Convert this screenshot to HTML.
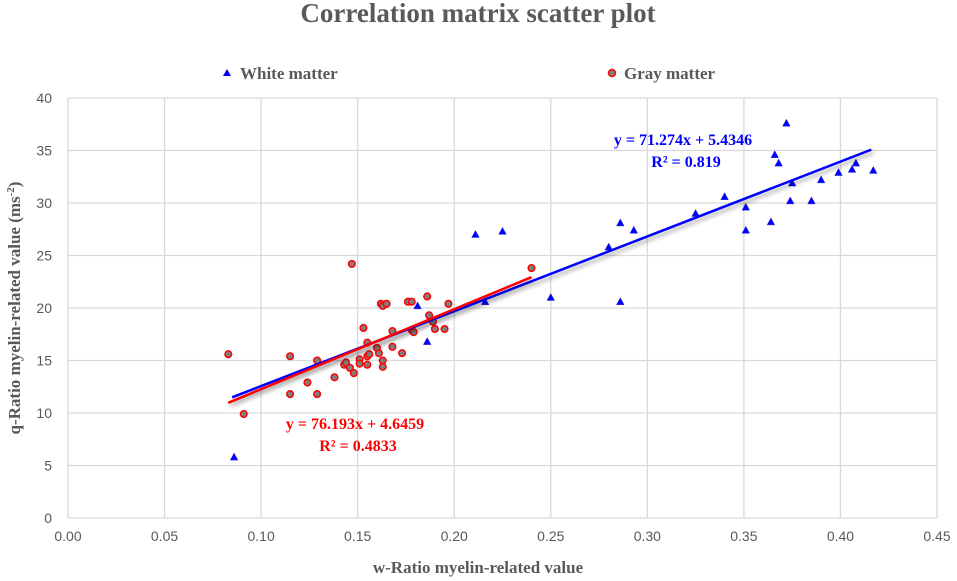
<!DOCTYPE html>
<html><head><meta charset="utf-8"><style>
body{margin:0;background:#fff;}
svg{display:block;font-family:"Liberation Serif",serif;}
</style></head><body>
<svg id="chart" width="957" height="581">
<defs><filter id="sh" x="-10%" y="-50%" width="120%" height="200%"><feDropShadow dx="2" dy="3" stdDeviation="2" flood-color="#000" flood-opacity="0.35"/></filter></defs>
<text x="478" y="22" text-anchor="middle" font-size="27" font-weight="bold" fill="#595959">Correlation matrix scatter plot</text>
<g>
<g><polygon points="227,69 231,76 223,76" fill="#0000ff"/><text x="240" y="79" font-size="17" font-weight="bold" fill="#595959">White matter</text></g>
<g><circle cx="612" cy="73" r="3.5" fill="#7f7f7f" stroke="#ff0000" stroke-width="1.5"/><text x="624" y="79" font-size="17" font-weight="bold" fill="#595959">Gray matter</text></g>
</g>
<g id="grid"></g><g id="axes"></g><g id="marks"></g>
<text x="478" y="573" text-anchor="middle" font-size="17" font-weight="bold" fill="#595959">w-Ratio  myelin-related  value</text>
<text transform="translate(20,308) rotate(-90)" text-anchor="middle" font-size="17" font-weight="bold" fill="#595959">q-Ratio  myelin-related  value (ms<tspan font-size="11" dy="-6">-2</tspan><tspan dy="6">)</tspan></text>
<g font-size="16" font-weight="bold" fill="#0000ff" text-anchor="middle"><text x="683" y="145">y = 71.274x + 5.4346</text><text x="686" y="167">R² = 0.819</text></g>
<g font-size="16" font-weight="bold" fill="#ff0000" text-anchor="middle"><text x="355" y="429">y = 76.193x + 4.6459</text><text x="358" y="451">R² = 0.4833</text></g>
</svg>
<script>
const xTicks=[0,0.05,0.10,0.15,0.20,0.25,0.30,0.35,0.40,0.45];
const yTicks=[0,5,10,15,20,25,30,35,40];
const whiteX=[0.086,0.181,0.186,0.216,0.250,0.211,0.225,0.286,0.280,0.286,0.293,0.325,0.340,0.351,0.351,0.364,0.366,0.368,0.372,0.374,0.375,0.385,0.390,0.399,0.406,0.408,0.417];
const whiteY=[5.8,20.2,16.8,20.6,21.0,27.0,27.3,20.6,25.8,28.1,27.4,29.0,30.6,27.4,29.6,28.2,34.6,33.8,37.6,30.2,31.9,30.2,32.2,32.9,33.2,33.8,33.1];
const grayX=[0.083,0.091,0.115,0.115,0.124,0.129,0.129,0.138,0.143,0.144,0.146,0.148,0.147,0.151,0.151,0.153,0.155,0.155,0.155,0.156,0.160,0.161,0.163,0.163,0.162,0.163,0.165,0.168,0.168,0.173,0.176,0.178,0.178,0.179,0.186,0.187,0.189,0.190,0.195,0.197,0.240];
const grayY=[15.6,9.9,15.4,11.8,12.9,15.0,11.8,13.4,14.6,14.8,14.3,13.8,24.2,15.1,14.7,18.1,16.7,15.4,14.6,15.6,16.2,15.7,15.0,14.4,20.4,20.2,20.4,17.8,16.3,15.7,20.6,20.6,17.9,17.7,21.1,19.3,18.7,18.0,18.0,20.4,23.8];
const whiteFit=[71.274,5.4346,0.085,0.416];
const grayFit=[76.193,4.6459,0.083,0.240];
const NS='http://www.w3.org/2000/svg';
const X0=68,X1=937,Y0=518,Y1=98;
const sx=v=>X0+(v-0)/(0.45)*(X1-X0);
const sy=v=>Y0-(v/40)*(Y0-Y1);
function mk(t,a,p){const e=document.createElementNS(NS,t);for(const k in a)e.setAttribute(k,a[k]);p.appendChild(e);return e;}
const grid=document.getElementById('grid'),axes=document.getElementById('axes'),marks=document.getElementById('marks');
xTicks.forEach(t=>{
  const l=mk('line',{x1:sx(t),x2:sx(t),y1:Y1,y2:Y0,stroke:'#d9d9d9','stroke-width':1.3},grid);
  
  
  const tx=mk('text',{x:sx(t),y:541,'text-anchor':'middle','font-size':14,fill:'#595959','font-family':'Liberation Sans, sans-serif'},axes);
  tx.textContent=t.toFixed(2);
  
  
});
yTicks.forEach(t=>{
  const l=mk('line',{x1:X0,x2:X1,y1:sy(t),y2:sy(t),stroke:'#d9d9d9','stroke-width':1.3},grid);
  
  
  const tx=mk('text',{x:52,y:sy(t)+5,'text-anchor':'end','font-size':14,fill:'#595959','font-family':'Liberation Sans, sans-serif'},axes);
  tx.textContent=t;
  
  
});
function fit(f,col,name){
  const l=mk('line',{x1:sx(f[2]),y1:sy(f[0]*f[2]+f[1]),x2:sx(f[3]),y2:sy(f[0]*f[3]+f[1]),stroke:col,'stroke-width':2.5,filter:'url(#sh)'},marks);
  
  
}
whiteX.forEach((v,i)=>{
  const x=sx(v),y=sy(whiteY[i]);
  const p=mk('polygon',{points:`${x},${y-4} ${x+3.8},${y+3} ${x-3.8},${y+3}`,fill:'#0000ff',stroke:'#3333cc','stroke-width':0.5},marks);
  
  
});
grayX.forEach((v,i)=>{
  const c=mk('circle',{cx:sx(v),cy:sy(grayY[i]),r:3.3,fill:'#7f7f7f',stroke:'#ff0000','stroke-width':1.5},marks);
  
  
});
fit(whiteFit,'#0000ff','white-trendline');
fit(grayFit,'#ff0000','gray-trendline');
</script>
</body></html>
